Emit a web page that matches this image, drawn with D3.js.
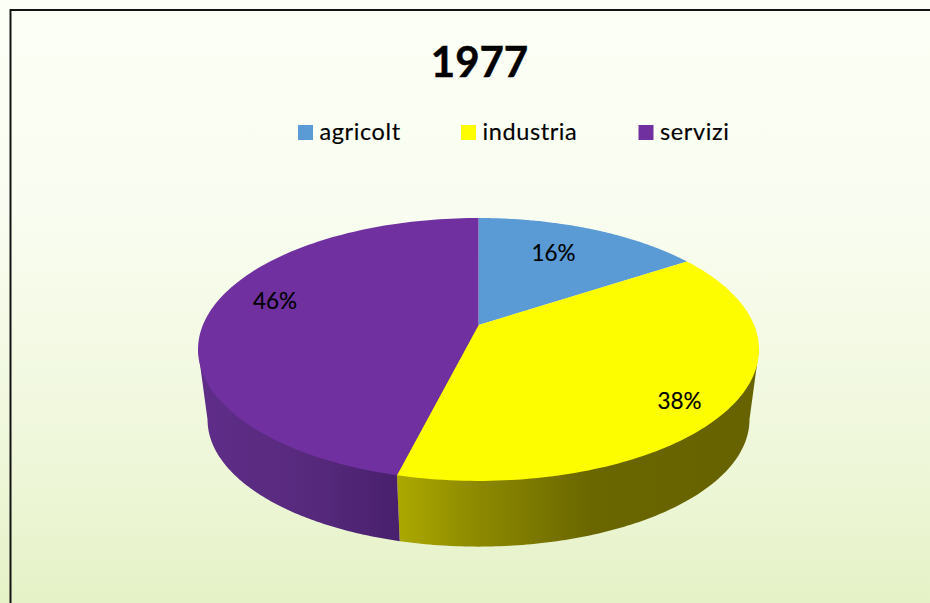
<!DOCTYPE html>
<html><head><meta charset="utf-8">
<script src="https://cdn.jsdelivr.net/npm/d3@7"></script>
<style>html,body{margin:0;padding:0;background:#fff;overflow:hidden}svg{display:block}text{font-family:Lato,Carlito,sans-serif;fill:#000}</style>
</head><body><div id="c"></div>
<script>
const chartTitle = "1977";
const categories = ["agricolt", "industria", "servizi"];
const shareValues = [15.7, 38.2, 46.1];
const topColors = ["#5b9bd5", "#fdfd00", "#7030a0"];

const W = 930, H = 603;
const svg = d3.select("#c").append("svg").attr("width", W).attr("height", H);
const defs = svg.append("defs");

const bg = defs.append("linearGradient").attr("id","bg").attr("x1",0).attr("x2",0).attr("y1",0).attr("y2",1);
[[0,"#fbfff5"],[0.35,"#f9fdf1"],[0.75,"#eff7da"],[1,"#e5f2c7"]].forEach(s=>bg.append("stop").attr("offset",s[0]).attr("stop-color",s[1]));
svg.append("rect").attr("width",W).attr("height",H).attr("fill","url(#bg)");
svg.append("rect").attr("x",10.5).attr("y",10).attr("width",W+20).attr("height",H+20)
  .attr("fill","none").attr("stroke","#141414").attr("stroke-width",2);

svg.append("text").attr("x",479.5).attr("y",77).attr("text-anchor","middle")
  .attr("font-size",42).attr("font-weight",700).attr("stroke","#000").attr("stroke-width",0.5).text(chartTitle);

// legend
const legendX = d3.scaleOrdinal().domain(categories).range([298,461,638.5]);
const lg = svg.append("g").selectAll("g").data(categories).join("g")
  .attr("transform",d=>`translate(${legendX(d)},0)`);
lg.append("rect").attr("y",125).attr("width",15).attr("height",15).attr("fill",(d,i)=>topColors[i]);
lg.append("text").attr("x",21.5).attr("y",140).attr("font-size",23.5).attr("letter-spacing",0.6)
  .attr("stroke","#000").attr("stroke-width",0.15).text(d=>d);

// perspective pie
const m = 0.186, a = 275.6, b = 126.9, cx = 478.5, cy = 325;
const sBase = 0.966, wideY = 349.4, baseWideY = 419.6;
function proj(t){
  const u = Math.sin(t), v = -Math.cos(t), d = 1 - m*v;
  return [cx + a*u/d, cy + b*v/d];
}
function projBase(t){
  const p = proj(t);
  return [cx + sBase*(p[0]-cx), baseWideY + sBase*(p[1]-wideY)];
}
const pieGen = d3.pie().sort(null).value(d=>d);
const arcs = pieGen(shareValues);
const line = d3.line().curve(d3.curveLinear);
const sampled = (t0,t1,f)=>d3.range(0,121).map(i=>f(t0+(t1-t0)*i/120));

// tangent angles where the outline is widest
const tRight = Math.PI - Math.acos(m);
const tLeft = 2*Math.PI - tRight;

const sideGrad = [
  {id:"sideY", stops:[[397,"#aca900"],[470,"#8f8c00"],[590,"#6a6700"],[760,"#666300"]]},
  {id:"sideP", stops:[[200,"#5f2d88"],[300,"#582a7e"],[400,"#48206d"]]}
];
sideGrad.forEach(g=>{
  const lgn = defs.append("linearGradient").attr("id",g.id).attr("gradientUnits","userSpaceOnUse")
    .attr("x1",g.stops[0][0]).attr("x2",g.stops[g.stops.length-1][0]).attr("y1",0).attr("y2",0);
  const sc = d3.scaleLinear().domain([g.stops[0][0],g.stops[g.stops.length-1][0]]).range([0,1]);
  g.stops.forEach(s=>lgn.append("stop").attr("offset",sc(s[0])).attr("stop-color",s[1]));
});
const sideFill = ["none","url(#sideY)","url(#sideP)"];

const pg = svg.append("g");
arcs.forEach((d,i)=>{
  const t0 = Math.max(d.startAngle,tRight), t1 = Math.min(d.endAngle,tLeft);
  if(t1<=t0) return;
  const pts = [[cx,cy],proj(t0)].concat(sampled(t0,t1,projBase).map(p=>p),[proj(t1)]);
  pg.append("path").attr("d",line(pts)+"Z").attr("fill",sideFill[i]);
});
arcs.forEach((d,i)=>{
  const pts = [[cx,cy]].concat(sampled(d.startAngle,d.endAngle,proj));
  pg.append("path").attr("d",line(pts)+"Z").attr("fill",topColors[i]);
});

// data labels
const labelPos = [[553.5,261],[679.5,409],[275,309]];
svg.append("g").selectAll("text").data(arcs).join("text")
  .attr("x",(d,i)=>labelPos[i][0]).attr("y",(d,i)=>labelPos[i][1])
  .attr("text-anchor","middle").attr("font-size",22.5).attr("stroke","#000").attr("stroke-width",0.15)
  .text(d=>Math.round(d.value)+"%");
</script></body></html>
